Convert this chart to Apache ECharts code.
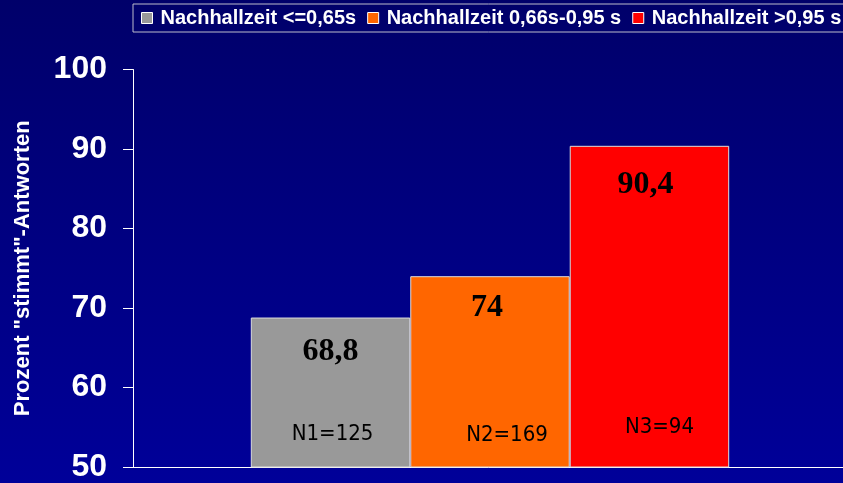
<!DOCTYPE html>
<html><head><meta charset="utf-8">
<script src="https://cdn.jsdelivr.net/npm/echarts@6/dist/echarts.min.js"></script>
<style>html,body{margin:0;padding:0;}#c{width:843px;height:483px;}</style>
</head><body><div id="c"></div>
<script>
const seriesNames = ['Nachhallzeit <=0,65s', 'Nachhallzeit 0,66s-0,95 s', 'Nachhallzeit >0,95 s'];
const values = [68.8, 74, 90.4];
const valueLabels = ['68,8', '74', '90,4'];
const nLabels = ['N1=125', 'N2=169', 'N3=94'];
const colors = ['#999999', '#FF6600', '#FF0000'];
const category = ['Gruppe'];
const yTicks = [50, 60, 70, 80, 90, 100];

const valDist = [18, 16, 23];
const valOffX = [0, -3, -4];
const nDist = [22, 21, 29];
const nOffX = [2, 17, 10];

const series = [];
seriesNames.forEach((name, i) => {
  series.push({
    name: name, type: 'bar', xAxisIndex: 0, barGap: '0%', barCategoryGap: '33%',
    itemStyle: { color: colors[i], borderColor: '#dddddd', borderWidth: 1 },
    label: { show: true, position: 'insideTop', distance: valDist[i], offset: [valOffX[i], 0],
      formatter: () => valueLabels[i], color: '#000', fontFamily: 'Liberation Serif', fontWeight: 'bold', fontSize: 32 },
    data: [values[i]], z: 2
  });
});
seriesNames.forEach((name, i) => {
  series.push({
    name: name + ' N', type: 'bar', xAxisIndex: 1, barGap: '0%', barCategoryGap: '33%',
    itemStyle: { color: 'rgba(0,0,0,0)' }, silent: true,
    label: { show: true, position: 'insideBottom', distance: nDist[i], offset: [nOffX[i], 0],
      formatter: () => nLabels[i], color: '#000', fontFamily: '"DejaVu Sans Condensed", "DejaVu Sans"', fontSize: 22 },
    data: [values[i]], z: 3
  });
});

const chart = echarts.init(document.getElementById('c'));
chart.setOption({
  backgroundColor: { type: 'linear', x: 0, y: 0, x2: 0, y2: 1,
    colorStops: [{ offset: 0, color: '#00006a' }, { offset: 1, color: '#000099' }] },
  animation: false,
  legend: {
    data: seriesNames.map((n, i) => ({ name: n, itemStyle: { color: colors[i], borderColor: '#ffffff', borderWidth: 1 } })),
    left: 133, top: 4, width: 740, orient: 'horizontal', padding: [4, 14, 4, 8], itemGap: 11, itemWidth: 11, itemHeight: 11,
    borderColor: '#bbbbcc', borderWidth: 1, icon: 'rect',
    textStyle: { color: '#ffffff', fontFamily: 'Liberation Sans', fontWeight: 'bold', fontSize: 20, padding: [0, 0, 0, 3] }
  },
  grid: { left: 133, right: -4, top: 69.5, bottom: 16, containLabel: false, outerBoundsMode: 'none' },
  xAxis: [
    { type: 'category', data: category, axisLine: { lineStyle: { color: '#ffffff', width: 1 } },
      axisTick: { show: false }, axisLabel: { show: false } },
    { type: 'category', data: category, show: false }
  ],
  yAxis: {
    type: 'value', min: yTicks[0], max: yTicks[yTicks.length - 1], interval: 10,
    name: 'Prozent "stimmt"-Antworten', nameLocation: 'middle', nameGap: 99, nameRotate: 90,
    nameTextStyle: { color: '#ffffff', fontFamily: 'Liberation Sans', fontWeight: 'bold', fontSize: 22 },
    axisLine: { show: true, lineStyle: { color: '#ffffff', width: 1 } },
    axisTick: { show: true, length: 10, lineStyle: { color: '#ffffff' } },
    splitLine: { show: false },
    axisLabel: { color: '#ffffff', fontFamily: 'Liberation Sans', fontWeight: 'bold', fontSize: 32, margin: 26 }
  },
  series: series
});
</script></body></html>
